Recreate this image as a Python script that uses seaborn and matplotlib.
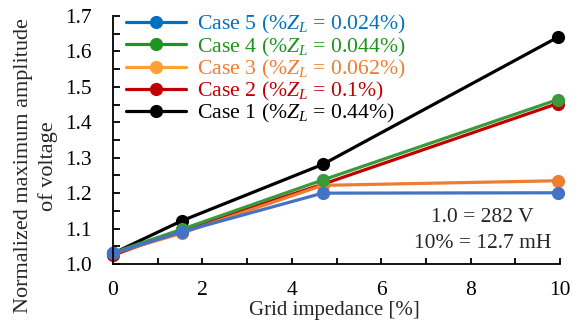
import numpy as np
import pandas as pd
import matplotlib
matplotlib.use("Agg")
import matplotlib.pyplot as plt
import seaborn as sns
from matplotlib.lines import Line2D

# ---- data ----
grid_impedance = [0.0, 1.54, 4.69, 9.95]
case1 = [1.030, 1.122, 1.281, 1.640]
case2 = [1.025, 1.095, 1.225, 1.453]
case3 = [1.030, 1.087, 1.222, 1.235]
case4 = [1.032, 1.098, 1.237, 1.464]
case5 = [1.030, 1.091, 1.200, 1.201]
case_names = ["Case 1", "Case 2", "Case 3", "Case 4", "Case 5"]
zl_labels = ["0.44%", "0.1%", "0.062%", "0.044%", "0.024%"]

line_colors = ["#000000", "#C00000", "#ED7D31", "#3A9A3A", "#4472C4"]
legend_colors = ["#000000", "#C00000", "#FFA030", "#1F931F", "#0070C0"]
text_colors = ["#000000", "#C00000", "#ED7D31", "#1F931F", "#0070C0"]

rows = []
for name, vals in zip(case_names, [case1, case2, case3, case4, case5]):
    for x, y in zip(grid_impedance, vals):
        rows.append({"x": x, "y": y, "case": name})
df = pd.DataFrame(rows)

sns.set_style("ticks")
plt.rcParams["font.family"] = ["Liberation Serif", "DejaVu Serif"]
plt.rcParams["mathtext.fontset"] = "custom"
plt.rcParams["mathtext.rm"] = "Liberation Serif"
plt.rcParams["mathtext.it"] = "Liberation Serif:italic"

W, H = 582, 324
fig = plt.figure(figsize=(W / 100, H / 100), dpi=100)
ax = fig.add_axes([113 / W, 1 - 264 / H, (560 - 113) / W, (264 - 16) / H])

for name, col in zip(case_names, line_colors):
    sub = df[df["case"] == name]
    sns.lineplot(data=sub, x="x", y="y", ax=ax, color=col, linewidth=2.3,
                 marker="o", markersize=9.5, markeredgewidth=0, legend=False)

ax.set_xlim(0, 10)
ax.set_ylim(1.0, 1.7)
ax.set_xticks(np.arange(0, 11, 2))
ax.set_xticks(np.arange(0, 11, 1), minor=True)
ax.set_yticks(np.arange(1.0, 1.71, 0.1))
ax.set_yticks(np.arange(1.0, 1.71, 0.05), minor=True)
ax.set_yticklabels([f"{v:.1f}" for v in np.arange(1.0, 1.71, 0.1)])
for sp in ["top", "right"]:
    ax.spines[sp].set_visible(False)
for sp in ["left", "bottom"]:
    ax.spines[sp].set_linewidth(1.3)
    ax.spines[sp].set_color("black")
    ax.spines[sp].set_clip_on(False)
ax.tick_params(axis="both", which="both", direction="in", width=1.3,
               colors="black", labelsize=15.5)
ax.tick_params(axis="y", which="both", length=5, pad=15)
ax.tick_params(axis="x", which="both", length=4, pad=12)
for line in ax.lines:
    line.set_clip_on(False)

ax.set_xlabel("")
ax.set_ylabel("")
fig.text(334 / W, 1 - 311 / H, "Grid impedance [%]", fontsize=15,
         ha="center", va="center")
fig.text(36 / W, 1 - 166 / H, "Normalized maximum amplitude\nof voltage",
         fontsize=16, rotation=90, ha="center", va="center",
         linespacing=1.35, multialignment="center")

ax.text(8.25, 1.132, "1.0 = 282 V", fontsize=15.5, ha="center", va="center")
ax.text(8.28, 1.059, "10% = 12.7 mH", fontsize=15.5, ha="center", va="center")

handles = []
labels = []
for i in [4, 3, 2, 1, 0]:
    handles.append(Line2D([], [], color=legend_colors[i], linewidth=2.3,
                          marker="o", markersize=9.5, markeredgewidth=0))
    labels.append(f"{case_names[i]} (%$Z_L$ = {zl_labels[i]})")
leg = ax.legend(handles, labels, loc="upper left", bbox_to_anchor=(0.01, 1.046),
                frameon=False, fontsize=15.7, handlelength=2.75, handletextpad=0.5,
                labelspacing=-0.04, borderaxespad=0.2, borderpad=0.2)
for txt, i in zip(leg.get_texts(), [4, 3, 2, 1, 0]):
    txt.set_color(text_colors[i])

fig.savefig("out.png", dpi=100)
